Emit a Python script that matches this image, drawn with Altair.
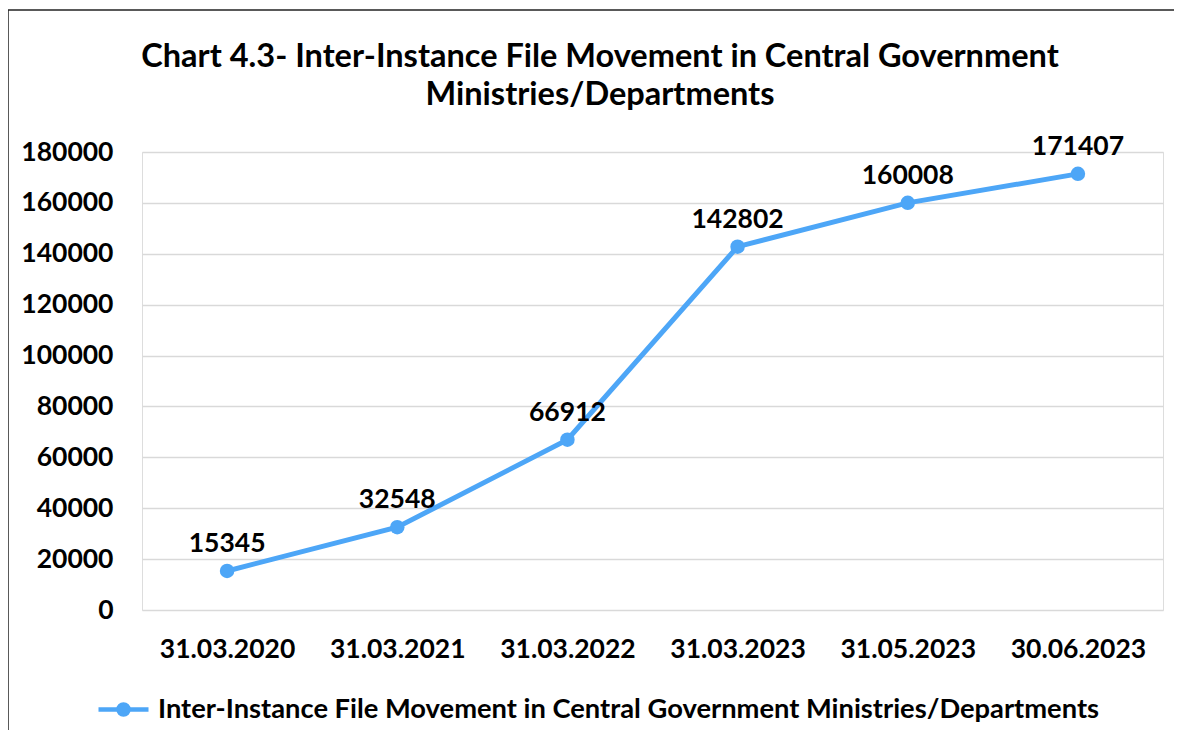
import altair as alt
import pandas as pd

dates = ["31.03.2020", "31.03.2021", "31.03.2022", "31.03.2023", "31.05.2023", "30.06.2023"]
values = [15345, 32548, 66912, 142802, 160008, 171407]
series_name = "Inter-Instance File Movement in Central Government Ministries/Departments"
title_line1 = "Chart 4.3- Inter-Instance File Movement in Central Government"
title_line2 = "Ministries/Departments"
y_ticks = [0, 20000, 40000, 60000, 80000, 100000, 120000, 140000, 160000, 180000]

df = pd.DataFrame({"date": dates, "value": values, "series": [series_name] * len(dates)})

FONT = "Lato"
BLUE = "#4DA6F7"
FS = 26.5

x = alt.X("date:N", sort=dates, title=None,
          scale=alt.Scale(paddingInner=0, paddingOuter=0.5),
          axis=alt.Axis(labelAngle=0, labelFontSize=FS, labelFontWeight="bold",
                        labelColor="#000000", labelPadding=26, domain=False, ticks=False,
                        labelFont=FONT))
y = alt.Y("value:Q", title=None,
          scale=alt.Scale(domain=[0, 180000], nice=False),
          axis=alt.Axis(values=y_ticks, format="d", labelFontSize=FS, labelFontWeight="bold",
                        labelColor="#000000", labelPadding=29, domain=False, ticks=False,
                        grid=True, gridColor="#D9D9D9", gridWidth=1.5, labelFont=FONT))

color = alt.Color("series:N", title=None,
                  scale=alt.Scale(range=[BLUE]),
                  legend=alt.Legend(orient="none", legendX=-46, legendY=530,
                                    symbolType="M-1,0L1,0M-0.2,0A0.2,0.2,0,1,1,0.2,0A0.2,0.2,0,1,1,-0.2,0Z",
                                    symbolSize=2500, symbolStrokeWidth=4.5,
                                    symbolFillColor=BLUE, symbolStrokeColor=BLUE,
                                    labelFontSize=27.3, labelFontWeight="bold", labelFont=FONT,
                                    labelColor="#000000", labelLimit=2000, symbolOffset=0,
                                    labelOffset=7))

base = alt.Chart(df)

line = base.mark_line(strokeWidth=5).encode(x=x, y=y, color=color)
points = base.mark_circle(size=210, opacity=1).encode(
    x=x, y=y, color=alt.Color("series:N", scale=alt.Scale(range=[BLUE]), legend=None))
labels = base.mark_text(fontSize=FS, fontWeight="bold", font=FONT, baseline="bottom", dy=-13,
                        color="#000000").encode(x=x, y=y, text=alt.Text("value:Q", format="d"))

one = pd.DataFrame({"k": [0]})
title1 = alt.Chart(one).mark_text(fontSize=32.5, fontWeight="bold", font=FONT, color="#000000",
                                  align="center", baseline="alphabetic").encode(
    x=alt.value(458), y=alt.value(-85), text=alt.value(title_line1))
title2 = alt.Chart(one).mark_text(fontSize=32.5, fontWeight="bold", font=FONT, color="#000000",
                                  align="center", baseline="alphabetic").encode(
    x=alt.value(458), y=alt.value(-47), text=alt.value(title_line2))

left_border = alt.Chart(one).mark_rule(color="#222222", strokeWidth=1.5).encode(
    x=alt.value(-134), y=alt.value(-142), y2=alt.value(600))
top_border = alt.Chart(one).mark_rule(color="#222222", strokeWidth=1.5).encode(
    x=alt.value(-134), x2=alt.value(1032), y=alt.value(-142))

chart = alt.layer(line, points, labels, title1, title2, left_border, top_border).properties(
    width=1021, height=458,
    autosize=alt.AutoSizeParams(type="none"),
    padding={"left": 134, "top": 144, "right": 11, "bottom": 120},
).configure_view(stroke=None).configure(background="white")

chart.save("out.html", embed_options={"renderer": "svg", "actions": False})
